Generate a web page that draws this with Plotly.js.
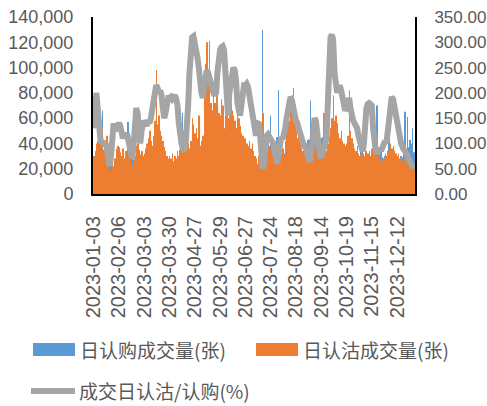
<!DOCTYPE html>
<html>
<head>
<meta charset="utf-8">
<script src="https://cdn.plot.ly/plotly-3.0.1.min.js"></script>
<style>
html,body{margin:0;padding:0;background:#fff;}
#chart{width:487px;height:406px;}
</style>
</head>
<body>
<div id="chart"></div>
<script>
// ---- Data ----
const closedWeekdays = ["2023-01-02","2023-01-23","2023-01-24","2023-01-25","2023-01-26","2023-01-27",
  "2023-04-05","2023-05-01","2023-05-02","2023-05-03","2023-06-22","2023-06-23",
  "2023-09-29","2023-10-02","2023-10-03","2023-10-04","2023-10-05","2023-10-06"];

const tickLabels = ["2023-01-03","2023-02-06","2023-03-03","2023-03-30","2023-04-27","2023-05-29",
  "2023-06-27","2023-07-24","2023-08-18","2023-09-14","2023-10-19","2023-11-15","2023-12-12"];

// 日认购成交量(张)
const callVolume = [
  23000,18000,20000,25000,26000,41000,40000,66000,35000,30000,40000,36000,29000,25000,24000,16000,22000,28000,27000,
  26000,24000,25000,33000,23000,30000,25000,57000,30000,30000,31000,27000,20000,22000,25000,32000,31000,27000,22000,
  22000,26000,30000,30000,36000,28000,23000,25000,28000,46000,26000,31000,24000,24000,25000,25000,21000,16000,15000,
  16000,15000,17000,14000,15000,15000,19000,21000,35000,44000,64000,50000,40000,34000,23000,15000,14000,19000,18000,
  16000,18000,16000,25000,18000,21000,24000,41000,44000,49000,40000,53000,32000,31000,40000,37000,46000,46000,23000,
  22000,26000,24000,18000,26000,39000,39000,36000,32000,28000,25000,24000,23000,37000,38000,35000,27000,22000,20000,
  20000,18000,18000,22000,21000,27000,25000,24000,24000,17000,21000,22000,35000,130000,45000,30000,31000,37000,34000,
  62000,29000,34000,33000,37000,45000,82000,38000,29000,33000,26000,32000,33000,33000,31000,38000,42000,51000,40000,
  34000,31000,37000,58000,34000,34000,34000,32000,40000,43000,43000,74000,36000,29000,28000,28000,33000,40000,40000,
  44000,45000,55000,36000,31000,22000,17000,17000,19000,26000,24000,30000,28000,23000,20000,24000,23000,24000,23000,
  24000,25000,43000,29000,29000,28000,26000,25000,29000,28000,30000,38000,38000,32000,26000,20000,18000,19000,17000,
  21000,26000,50000,35000,70000,35000,31000,35000,29000,28000,30000,30000,26000,68000,22000,19000,20000,20000,21000,
  21000,26000,24000,30000,29000,32000,65000,32000,61000,37000,43000,40000,52000,33000
];

// 日认沽成交量(张)
const putVolume = [
  30000,34000,40000,42000,32000,45000,52000,34000,33000,30000,46000,25000,16000,19000,26000,22000,28000,36000,38000,
  37000,33000,30000,36000,28000,34000,30000,32000,27000,24000,22000,26000,30000,38000,40000,35000,31000,34000,30000,
  32000,36000,40000,44000,50000,42000,38000,46000,58000,98000,55000,62000,50000,46000,42000,37000,34000,30000,28000,
  30000,28000,32000,26000,30000,28000,34000,30000,38000,46000,50000,56000,61000,44000,40000,36000,42000,60000,55000,
  48000,52000,44000,62000,38000,42000,46000,87000,103000,120000,95000,121000,72000,66000,80000,72000,92000,111000,64000,
  62000,75000,70000,52000,62000,67000,60000,72000,72000,66000,62000,58000,52000,67000,60000,54000,48000,46000,44000,
  44000,40000,38000,42000,36000,40000,34000,30000,28000,24000,30000,26000,28000,64000,40000,30000,36000,44000,38000,
  36000,30000,34000,28000,24000,30000,36000,40000,32000,36000,30000,42000,50000,56000,58000,72000,78000,84000,60000,
  50000,44000,48000,40000,36000,34000,32000,30000,34000,30000,28000,30000,32000,38000,42000,40000,36000,34000,30000,
  32000,36000,64000,38000,34000,40000,46000,52000,60000,78000,58000,62000,56000,48000,44000,50000,42000,40000,38000,
  40000,46000,82000,50000,44000,40000,36000,34000,38000,32000,30000,34000,32000,30000,36000,34000,32000,34000,30000,
  36000,34000,32000,30000,34000,30000,28000,30000,26000,28000,32000,30000,34000,38000,40000,36000,38000,34000,32000,
  30000,32000,28000,30000,26000,28000,30000,26000,28000,24000,26000,22000,24000,20000
];

// 成交日认沽/认购(%)
const putCallRatio = [
  130,185,200,170,125,110,100,105,95,100,90,70,55,75,110,140,125,130,140,
  140,135,120,110,120,115,120,110,90,80,70,95,150,170,160,110,100,125,135,
  145,140,135,145,140,150,165,185,205,215,210,200,205,195,170,150,160,185,190,
  190,192,188,190,195,188,175,140,110,100,90,85,95,130,175,240,295,310,312,
  300,285,270,250,215,200,190,210,235,245,240,228,222,210,200,195,200,240,275,
  285,290,292,285,240,170,155,200,225,240,250,245,225,180,160,155,175,205,215,
  215,218,212,195,170,150,135,125,115,140,142,120,80,50,60,100,115,118,112,
  110,105,100,85,65,60,80,105,112,108,115,130,150,170,185,192,185,165,150,
  145,140,130,115,105,100,95,95,85,70,65,68,90,130,150,145,110,85,75,
  72,80,95,105,110,180,270,310,315,305,240,205,200,210,215,205,185,170,165,
  170,185,190,170,150,145,140,135,130,115,100,90,85,95,140,170,178,180,178,
  175,130,95,85,80,85,90,85,90,100,105,100,130,165,185,192,188,170,150,
  140,125,115,100,90,88,85,80,70,65,60,55,52,60
];

const seriesNames = ["日认购成交量(张)", "日认沽成交量(张)", "成交日认沽/认购(%)"];

// ---- trading-day categories (weekdays of 2023 minus exchange holidays) ----
function tradingDays(year, closed) {
  const out = [];
  const d = new Date(Date.UTC(year, 0, 1));
  while (d.getUTCFullYear() === year) {
    const wd = d.getUTCDay();
    const s = d.toISOString().slice(0, 10);
    if (wd !== 0 && wd !== 6 && closed.indexOf(s) < 0) out.push(s);
    d.setUTCDate(d.getUTCDate() + 1);
  }
  return out;
}
const dates = tradingDays(2023, closedWeekdays);

// ---- layout helpers ----
const W = 487, H = 406;
const M = {l: 93, r: 72, t: 17, b: 212};
const PW = W - M.l - M.r, PH = H - M.t - M.b;
const fx = px => (px - M.l) / PW;
const fy = py => (H - M.b - py) / PH;

const txtColor = '#595959';
const tickFont = {family: 'Liberation Sans, Arial, sans-serif', size: 18, color: txtColor};
const cjkFont = {family: 'Noto Sans CJK SC, sans-serif', size: 19, color: txtColor};
const colors = ['#5B9BD5', '#ED7D31', '#A5A5A5'];

const traces = [
  {type: 'bar', x: dates, y: callVolume, name: seriesNames[0], marker: {color: colors[0]}, yaxis: 'y'},
  {type: 'bar', x: dates, y: putVolume, name: seriesNames[1], marker: {color: colors[1]}, yaxis: 'y'},
  {type: 'scatter', mode: 'lines', x: dates, y: putCallRatio, name: seriesNames[2],
   line: {color: colors[2], width: 6}, yaxis: 'y2'}
];

const layout = {
  width: W, height: H,
  margin: M,
  paper_bgcolor: '#fff', plot_bgcolor: '#fff',
  showlegend: false,
  barmode: 'group', bargap: 0.3, bargroupgap: 0,
  hovermode: false,
  xaxis: {
    type: 'category',
    tickmode: 'array', tickvals: tickLabels, ticktext: tickLabels,
    tickangle: -90, tickfont: Object.assign({}, tickFont, {size: 20}),
    ticks: '', ticklabelstandoff: 12,
    showline: true, linecolor: '#000', linewidth: 2,
    showgrid: false, zeroline: false,
    range: [-0.5, dates.length - 0.5]
  },
  yaxis: {
    range: [0, 140000], dtick: 20000, tick0: 0, tickformat: ',d',
    tickfont: tickFont, ticks: '', ticklabelstandoff: 14,
    showline: true, linecolor: '#000', linewidth: 2,
    showgrid: false, zeroline: false
  },
  yaxis2: {
    overlaying: 'y', side: 'right',
    range: [0, 350], dtick: 50, tick0: 0, tickformat: '.2f',
    tickfont: Object.assign({}, tickFont, {size: 17}), ticks: '', ticklabelstandoff: 14,
    showline: true, linecolor: '#000', linewidth: 2,
    showgrid: false, zeroline: false
  },
  shapes: [
    {type: 'rect', xref: 'paper', yref: 'paper', x0: fx(33), x1: fx(75), y0: fy(356), y1: fy(343),
     fillcolor: colors[0], line: {width: 0}},
    {type: 'rect', xref: 'paper', yref: 'paper', x0: fx(256), x1: fx(298), y0: fy(356), y1: fy(343),
     fillcolor: colors[1], line: {width: 0}},
    {type: 'line', xref: 'paper', yref: 'paper', x0: fx(31), x1: fx(75), y0: fy(391), y1: fy(391),
     line: {color: colors[2], width: 6}}
  ],
  annotations: [
    {xref: 'paper', yref: 'paper', x: fx(78), y: fy(349), xanchor: 'left', yanchor: 'middle',
     text: seriesNames[0], showarrow: false, font: cjkFont},
    {xref: 'paper', yref: 'paper', x: fx(301), y: fy(349), xanchor: 'left', yanchor: 'middle',
     text: seriesNames[1], showarrow: false, font: cjkFont},
    {xref: 'paper', yref: 'paper', x: fx(77), y: fy(390), xanchor: 'left', yanchor: 'middle',
     text: seriesNames[2], showarrow: false, font: cjkFont}
  ]
};

Plotly.newPlot('chart', traces, layout, {displayModeBar: false, responsive: false});
</script>
</body>
</html>
